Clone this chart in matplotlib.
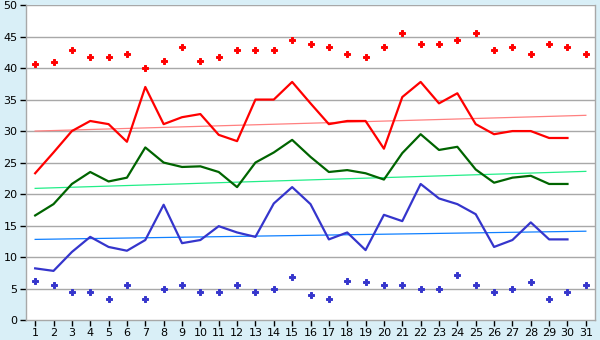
import matplotlib.pyplot as plt

days = list(range(1, 32))

record_high = [40.6, 41.0, 42.8, 41.7, 41.7, 42.2, 40.0, 41.1, 43.3, 41.1,
               41.7, 42.8, 42.8, 42.8, 44.4, 43.9, 43.3, 42.2, 41.7, 43.3,
               45.6, 43.9, 43.9, 44.4, 45.6, 42.8, 43.3, 42.2, 43.9, 43.3, 42.2]
mean_max = [23.3, 26.6, 30.0, 31.6, 31.1, 28.3, 37.0, 31.1, 32.2, 32.7,
            29.4, 28.4, 35.0, 35.0, 37.8, 34.4, 31.1, 31.6, 31.6, 27.2,
            35.4, 37.8, 34.4, 36.0, 31.1, 29.5, 30.0, 30.0, 28.9, 28.9]
mean_avg = [16.6, 18.4, 21.6, 23.5, 22.0, 22.6, 27.4, 25.0, 24.3, 24.4,
            23.5, 21.1, 25.0, 26.6, 28.6, 25.9, 23.5, 23.8, 23.3, 22.3,
            26.5, 29.5, 27.0, 27.5, 23.9, 21.8, 22.6, 22.9, 21.6, 21.6]
mean_min = [8.2, 7.8, 10.8, 13.2, 11.6, 11.0, 12.7, 18.3, 12.2, 12.7,
            14.9, 13.9, 13.2, 18.5, 21.1, 18.4, 12.8, 13.9, 11.1, 16.7,
            15.7, 21.6, 19.3, 18.4, 16.8, 11.6, 12.7, 15.5, 12.8, 12.8]
record_low = [6.2, 5.6, 4.4, 4.4, 3.3, 5.6, 3.3, 5.0, 5.6, 4.4,
              4.4, 5.6, 4.4, 5.0, 6.8, 3.9, 3.3, 6.2, 6.1, 5.6,
              5.6, 5.0, 5.0, 7.2, 5.6, 4.4, 5.0, 6.1, 3.3, 4.4, 5.6]

# trend lines (start / end values)
trend_days = [1, 31]
trend_max = [30.0, 32.5]
trend_avg = [20.9, 23.6]
trend_min = [12.8, 14.1]

bg = '#d9eff7'
fig = plt.figure(figsize=(6, 3.4), dpi=100, facecolor=bg)
ax = fig.add_axes([0.0433, 0.0588, 0.9484, 0.9262])
ax.set_facecolor('white')

for y in range(5, 51, 5):
    ax.axhline(y, color='#a8a8a8', linewidth=1.0, zorder=1)

ax.plot(trend_days, trend_max, color='#ff8080', linewidth=0.9, zorder=2)
ax.plot(trend_days, trend_avg, color='#22ee88', linewidth=0.9, zorder=2)
ax.plot(trend_days, trend_min, color='#1080ff', linewidth=0.9, zorder=2)

ax.plot(days[:30], mean_max, color='#ff0000', linewidth=1.6, zorder=3)
ax.plot(days[:30], mean_avg, color='#006400', linewidth=1.6, zorder=3)
ax.plot(days[:30], mean_min, color='#3535cc', linewidth=1.6, zorder=3)

ax.plot(days, record_high, linestyle='none', marker='P', markersize=3.8,
        markeredgewidth=0.7, color='#ff0000', zorder=4)
ax.plot(days, record_low, linestyle='none', marker='P', markersize=3.8,
        markeredgewidth=0.7, color='#3535cc', zorder=4)

ax.set_xlim(0.5, 31.5)
ax.set_ylim(0, 50)
ax.set_xticks(days)
ax.set_yticks(range(0, 51, 5))
ax.tick_params(axis='both', labelsize=8, length=4, width=1, color='black',
               pad=2)

for side in ['left', 'bottom', 'right']:
    ax.spines[side].set_color('#a8a8a8')
    ax.spines[side].set_linewidth(1.0)
ax.spines['top'].set_visible(False)

fig.savefig('out.png', dpi=100, facecolor=bg)
